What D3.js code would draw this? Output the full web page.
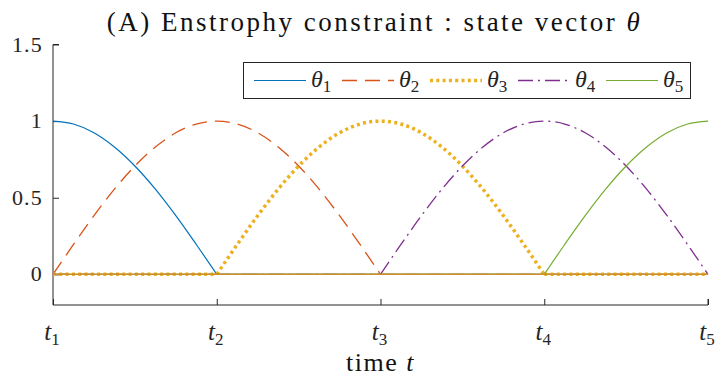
<!DOCTYPE html>
<html>
<head>
<script src="https://d3js.org/d3.v7.min.js"></script>
</head>
<body style="margin:0;background:#fff">
<script type="text/javascript">
var width  = 719;
var height = 378;

// time grid: t1..t5 in steps of 1/8
var tvals = [1, 1.125, 1.25, 1.375, 1.5, 1.625, 1.75, 1.875,
             2, 2.125, 2.25, 2.375, 2.5, 2.625, 2.75, 2.875,
             3, 3.125, 3.25, 3.375, 3.5, 3.625, 3.75, 3.875,
             4, 4.125, 4.25, 4.375, 4.5, 4.625, 4.75, 4.875, 5];

var theta1 = [1, 0.981, 0.924, 0.831, 0.707, 0.556, 0.383, 0.195,
              0, 0, 0, 0, 0, 0, 0, 0,
              0, 0, 0, 0, 0, 0, 0, 0,
              0, 0, 0, 0, 0, 0, 0, 0, 0];
var theta2 = [0, 0.195, 0.383, 0.556, 0.707, 0.831, 0.924, 0.981,
              1, 0.981, 0.924, 0.831, 0.707, 0.556, 0.383, 0.195,
              0, 0, 0, 0, 0, 0, 0, 0,
              0, 0, 0, 0, 0, 0, 0, 0, 0];
var theta3 = [0, 0, 0, 0, 0, 0, 0, 0,
              0, 0.195, 0.383, 0.556, 0.707, 0.831, 0.924, 0.981,
              1, 0.981, 0.924, 0.831, 0.707, 0.556, 0.383, 0.195,
              0, 0, 0, 0, 0, 0, 0, 0, 0];
var theta4 = [0, 0, 0, 0, 0, 0, 0, 0,
              0, 0, 0, 0, 0, 0, 0, 0,
              0, 0.195, 0.383, 0.556, 0.707, 0.831, 0.924, 0.981,
              1, 0.981, 0.924, 0.831, 0.707, 0.556, 0.383, 0.195, 0];
var theta5 = [0, 0, 0, 0, 0, 0, 0, 0,
              0, 0, 0, 0, 0, 0, 0, 0,
              0, 0, 0, 0, 0, 0, 0, 0,
              0, 0.195, 0.383, 0.556, 0.707, 0.831, 0.924, 0.981, 1];

var xTicks = [1, 2, 3, 4, 5];
var xTickLabels = ["1", "2", "3", "4", "5"];
var yTicks = [0, 0.5, 1, 1.5];
var yTickLabels = ["0", "0.5", "1", "1.5"];

var series = [
	{ name: "1", values: theta1, color: "#0072BD", width: 1.2, dash: null },
	{ name: "2", values: theta2, color: "#D95319", width: 1.3, dash: "15,8" },
	{ name: "3", values: theta3, color: "#EDB120", width: 3.5, dash: "3,3.3" },
	{ name: "4", values: theta4, color: "#7E2F8E", width: 1.3, dash: "15,5,2,5" },
	{ name: "5", values: theta5, color: "#77AC30", width: 1.2, dash: null }
];

var margin = { left: 53, right: 11, top: 44.5, bottom: 73 };
var ink = "#262626";
var serif = "'Liberation Serif'";

var x = d3.scaleLinear().domain([1, 5]).range([margin.left, width - margin.right]);
var y = d3.scaleLinear().domain([-0.2, 1.5]).range([height - margin.bottom, margin.top]);

var svg = d3.select("body").append("svg").attr("width", width).attr("height", height);

function axisStyle(g) {
	g.selectAll("line, path").attr("stroke", ink).attr("stroke-width", 1);
}

// axes (MATLAB style, ticks pointing inward, box off)
var yAxis = d3.axisRight(y).tickValues(yTicks).tickSize(6).tickFormat("");
svg.append("g").attr("transform", "translate(" + margin.left + ",0)").call(yAxis).call(axisStyle)
	.select(".domain").attr("d", "M6," + y(1.5) + "H0V" + y(-0.2));
var xAxis = d3.axisTop(x).tickValues(xTicks).tickSize(6).tickFormat("");
svg.append("g").attr("transform", "translate(0," + y(-0.2) + ")").call(xAxis).call(axisStyle)
	.select(".domain").attr("d", "M" + x(1) + ",0H" + x(5) + "V-6");

// y tick labels
svg.selectAll(".ylab").data(yTicks).enter().append("text")
	.attr("x", margin.left - 10).attr("y", function(d) { return y(d) + 7; })
	.attr("text-anchor", "end").attr("fill", ink)
	.style("font-family", serif).style("font-size", "22px").style("letter-spacing", "1.2px")
	.text(function(d, i) { return yTickLabels[i]; });

// x tick labels t_i
var xl = svg.selectAll(".xlab").data(xTicks).enter().append("text")
	.attr("x", function(d) { return x(d) - 1; }).attr("y", y(-0.2) + 35)
	.attr("text-anchor", "middle").attr("fill", ink)
	.style("font-family", serif).style("font-size", "25px");
xl.append("tspan").style("font-style", "italic").text("t");
xl.append("tspan").attr("dy", 5).style("font-size", "17px").text(function(d, i) { return xTickLabels[i]; });

// lines: hump drawn smooth, zero parts drawn straight
var line = d3.line()
	.x(function(d) { return x(d[0]); })
	.y(function(d) { return y(d[1]); })
	.curve(d3.curveMonotoneX);
var straight = d3.line()
	.x(function(d) { return x(d[0]); })
	.y(function(d) { return y(d[1]); });

series.forEach(function(s) {
	var pts = tvals.map(function(t, i) { return [t, s.values[i]]; });
	var hump = pts.filter(function(p, i) {
		return s.values[i] > 0 || (i > 0 && s.values[i - 1] > 0) || (i < pts.length - 1 && s.values[i + 1] > 0);
	});
	var g = svg.append("g").attr("fill", "none").attr("stroke", s.color)
		.attr("stroke-width", s.width).attr("stroke-dasharray", s.dash);
	var segs = [], cur = [];
	pts.forEach(function(p, i) {
		if (s.values[i] === 0) { cur.push(p); }
		else { if (cur.length > 1) segs.push(cur); cur = []; }
	});
	if (cur.length > 1) segs.push(cur);
	segs.forEach(function(sg) {
		g.append("path").datum(sg).attr("d", straight);
	});
	g.append("path").datum(hump).attr("d", line);
});

// overlapping zero lines blend to a brownish tone
svg.append("path").datum([[1, 0], [5, 0]]).attr("d", straight)
	.attr("stroke", "#D08F28").attr("stroke-width", 1.5).attr("fill", "none");

// legend
var leg = svg.append("g");
leg.append("rect").attr("x", 243.5).attr("y", 62.5).attr("width", 447).attr("height", 36)
	.attr("fill", "#fff").attr("stroke", ink).attr("stroke-width", 1);
series.forEach(function(s, i) {
	var lx = 254 + i * 88;
	leg.append("line").attr("x1", lx).attr("x2", lx + 52).attr("y1", 80.5).attr("y2", 80.5)
		.attr("stroke", s.color).attr("stroke-width", s.width).attr("stroke-dasharray", s.dash);
	var t = leg.append("text").attr("x", lx + 57).attr("y", 87).attr("fill", ink)
		.style("font-family", serif).style("font-size", "24px");
	t.append("tspan").style("font-style", "italic").text("\u03b8");
	t.append("tspan").attr("dy", 5).style("font-size", "17px").text(s.name);
});

// title
var title = svg.append("text").attr("x", (x(1) + x(5)) / 2 - 6).attr("y", 31)
	.attr("text-anchor", "middle").attr("fill", "#111")
	.style("font-family", serif).style("font-size", "27px")
	.style("letter-spacing", "2.5px");
title.append("tspan").text("(A) Enstrophy constraint : state vector ");
title.append("tspan").style("font-style", "italic").text("\u03b8");

// x label
var xlab = svg.append("text").attr("x", (x(1) + x(5)) / 2).attr("y", 371)
	.attr("text-anchor", "middle").attr("fill", "#111")
	.style("font-family", serif).style("font-size", "26px")
	.style("letter-spacing", "1.5px");
xlab.append("tspan").text("time ");
xlab.append("tspan").style("font-style", "italic").text("t");
</script>
</body>
</html>
